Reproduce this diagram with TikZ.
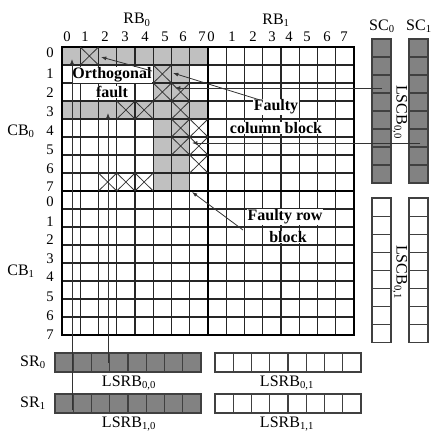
\documentclass[tikz,border=0pt]{standalone}
\usepackage{fontspec}
\setmainfont{Liberation Serif}
\usetikzlibrary{arrows.meta,positioning}
\definecolor{faultgray}{RGB}{192,192,192}
\definecolor{sparegray}{RGB}{130,130,130}

\begin{document}
\begin{tikzpicture}[x=0.75pt,y=-0.75pt,
   every node/.style={font=\fontsize{12}{14}\selectfont},
   num/.style={font=\fontsize{11}{13}\selectfont},
   note/.style={font=\fontsize{12}{14}\selectfont\bfseries,fill=white,inner sep=0.5pt},
   thin grid/.style={line width=0.8pt,black!85},
   block line/.style={line width=1.6pt,black},
   xmark/.style={line width=0.6pt,black!80},
   spare/.style={draw=black!75,line width=0.8pt},
   arr/.style={-{Latex[length=4pt,width=3pt]},line width=0.6pt,black!80}
]
\useasboundingbox (0,0) rectangle (431,430);

% faulty rows and columns of CB0 x RB0
\fill[faultgray] (62,47) rectangle ++(146,18);
\fill[faultgray] (62,101) rectangle ++(146,18);
\fill[faultgray] (153.25,47) rectangle ++(36.5,144);

% the 16 x 16 array
\foreach \i in {0,...,16}
   \draw[thin grid] ({62+18.25*\i},47) -- ({62+18.25*\i},335);
\foreach \j in {0,...,16}
   \draw[thin grid] (62,{47+18*\j}) -- (354,{47+18*\j});
\draw[block line] (62,47) rectangle (354,335);
\draw[block line] (208,47) -- (208,335);
\draw[block line] (62,191) -- (354,191);

% faulty cells
\foreach \c/\r in {1/0,5/1,5/2,6/2,6/3,6/4,6/5,3/3,4/3,7/4,7/5,7/6,2/7,3/7,4/7}
   \draw[xmark] ({62+18.25*\c},{47+18*\r}) -- ++(18.25,18)
                ({80.25+18.25*\c},{47+18*\r}) -- ++(-18.25,18);

% column and row indices
\foreach \i/\x in {0/67,1/85,2/105,3/125,4/145,5/165,6/183,7/202}
   \node[num] (ca\i) at (\x,37) {\i};
\foreach \i/\x in {0/211,1/232,2/253,3/272,4/289,5/307,6/327,7/344}
   \node[num] (cb\i) at (\x,37) {\i};
\foreach \i/\y in {0/53,1/74,2/93,3/112,4/131,5/150,6/169,7/187}
   \node[num] (ra\i) at (50,\y) {\i};
\foreach \i/\y in {0/202,1/222,2/240,3/259,4/277,5/297,6/316,7/335}
   \node[num] (rb\i) at (50,\y) {\i};

\node (RBa) at (137,20) {RB\textsubscript{0}};
\node (RBb) at (276,20) {RB\textsubscript{1}};
\node (CBa) at (21,131) {CB\textsubscript{0}};
\node (CBb) at (21,271) {CB\textsubscript{1}};

% spare columns
\foreach \k in {0,...,7} {
   \draw[spare,fill=sparegray] (372,{39+18*\k}) rectangle ++(19,18);
   \draw[spare,fill=sparegray] (409,{39+18*\k}) rectangle ++(19,18);
   \draw[spare,fill=white] (372,{198+18.1*\k}) rectangle ++(19,18.1);
   \draw[spare,fill=white] (409,{198+18.1*\k}) rectangle ++(19,18.1);
}
\node (SCa) at (382,26) {SC\textsubscript{0}};
\node (SCb) at (419,26) {SC\textsubscript{1}};
\node[rotate=-90] (LSCBa) at (400,112) {LSCB\textsubscript{0,0}};
\node[rotate=-90] (LSCBb) at (400,272) {LSCB\textsubscript{0,1}};

% spare rows
\foreach \k in {0,...,7} {
   \draw[spare,fill=sparegray] ({55+18.25*\k},353) rectangle ++(18.25,19);
   \draw[spare,fill=white] ({215+18.25*\k},353) rectangle ++(18.25,19);
   \draw[spare,fill=sparegray] ({55+18.25*\k},394) rectangle ++(18.25,19);
   \draw[spare,fill=white] ({215+18.25*\k},394) rectangle ++(18.25,19);
}
\node (SRa) at (33,362) {SR\textsubscript{0}};
\node (SRb) at (33,403) {SR\textsubscript{1}};
\node (LSRBaa) at (129,383) {LSRB\textsubscript{0,0}};
\node (LSRBab) at (287,383) {LSRB\textsubscript{0,1}};
\node (LSRBba) at (129,424) {LSRB\textsubscript{1,0}};
\node (LSRBbb) at (287,424) {LSRB\textsubscript{1,1}};

% annotations
\node[note] (orthA) at (112,75) {Orthogonal};
\node[note] (orthB) at (112,92) {fault};
\node[note] (fcbA) at (276,107) {Faulty};
\node[note] (fcbB) at (276,128) {column block};
\node[note] (frbA) at (285,217) {Faulty row};
\node[note] (frbB) at (288,237) {block};

% replacement and pointer arrows
\coordinate (srOne) at (72,410);
\coordinate (srZero) at (108,363);
\coordinate (scZero) at (382,88);
\coordinate (scOne) at (420,143);
\coordinate (orthTail) at (152,71);
\coordinate (fcbTail) at (260,100);
\coordinate (frbTail) at (243,230);
\coordinate (cellR0) at (72,59);
\coordinate (cellR3) at (108,113);
\coordinate (cellX) at (101,57);
\coordinate (cellC5) at (173,73);
\coordinate (cellC6) at (175,88);
\coordinate (cellC7) at (192,143);
\coordinate (cellR7) at (192,192);

\draw[arr] (srOne) -- (cellR0);
\draw[arr] (srZero) -- (cellR3);
\draw[arr] (orthTail) -- (cellX);
\draw[arr] (fcbTail) -- (cellC5);
\draw[arr] (scZero) -- (cellC6);
\draw[arr] (scOne) -- (cellC7);
\draw[arr] (frbTail) -- (cellR7);

\end{tikzpicture}
\end{document}
